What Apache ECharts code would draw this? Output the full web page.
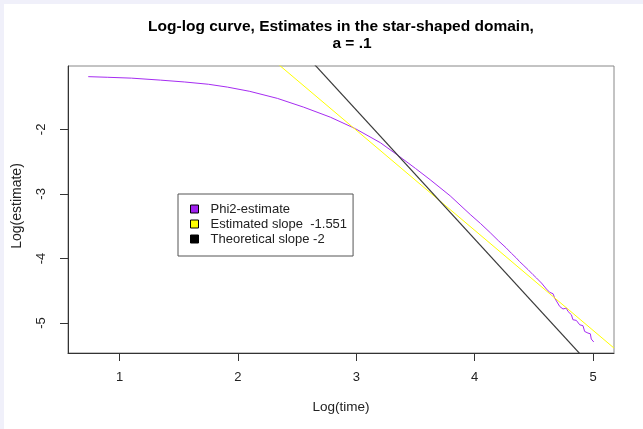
<!DOCTYPE html>
<html>
<head>
<meta charset="utf-8">
<script src="https://cdn.jsdelivr.net/npm/echarts@6/dist/echarts.min.js"></script>
<style>
html,body{margin:0;padding:0;background:#f0f0fa;width:643px;height:429px;overflow:hidden;}
#chart{position:absolute;left:4px;top:4px;width:639px;height:425px;background:#ffffff;}
</style>
</head>
<body>
<div id="chart"></div>
<script>
// ---- data ----
const titleLines = ["Log-log curve, Estimates in the star-shaped domain,", "a = .1"];
const xTitle = "Log(time)";
const yTitle = "Log(estimate)";
const seriesNames = ["Phi2-estimate", "Estimated slope  -1.551", "Theoretical slope -2"];
const xTicks = [1, 2, 3, 4, 5];
const yTicks = [-5, -4, -3, -2];
const logTime = [0.735, 0.90, 1.10, 1.346, 1.55, 1.75, 1.911, 2.10, 2.333, 2.555, 2.78, 2.992, 3.203, 3.36, 3.50, 3.624, 3.793, 3.962, 4.05, 4.131, 4.20, 4.265, 4.310, 4.350, 4.380, 4.409, 4.451, 4.493, 4.522, 4.564, 4.606, 4.634, 4.662, 4.676, 4.718, 4.746, 4.774, 4.788, 4.817, 4.830, 4.859, 4.887, 4.915, 4.929, 4.957, 4.977, 4.985, 5.006];
const logEstimate = [-1.182, -1.192, -1.205, -1.236, -1.265, -1.300, -1.344, -1.410, -1.519, -1.655, -1.810, -1.989, -2.206, -2.414, -2.605, -2.780, -3.030, -3.318, -3.460, -3.600, -3.725, -3.835, -3.920, -3.990, -4.050, -4.100, -4.174, -4.252, -4.303, -4.381, -4.474, -4.526, -4.547, -4.614, -4.744, -4.784, -4.769, -4.821, -4.873, -4.950, -4.961, -5.028, -5.043, -5.132, -5.157, -5.168, -5.250, -5.295];
const estSlope = -1.551, estIntercept = 2.64;
const theoSlope = -2, theoIntercept = 4.30;
const xRange = [0.564, 5.177];
const yRange = [-5.466, -1.017];

// ---- build ----
const curve = logTime.map((t, i) => [t, logEstimate[i]]);
const ablineData = (a, b) => xRange.map(x => [x, a + b * x]);
const FONT = '"Liberation Sans", Arial, Helvetica, sans-serif';

const chart = echarts.init(document.getElementById('chart'));
chart.setOption({
  backgroundColor: '#ffffff',
  animation: false,
  textStyle: {fontFamily: FONT},
  grid: {left: 64, top: 62, width: 546, height: 287, show: true, borderColor: '#888', borderWidth: 1, containLabel: false, outerBoundsMode: 'none'},
  xAxis: {
    type: 'value', min: xRange[0], max: xRange[1],
    axisLine: {show: true, onZero: false, lineStyle: {color: '#333', width: 1}},
    axisTick: {show: true, length: 8, customValues: xTicks, lineStyle: {color: '#333'}},
    axisLabel: {show: true, customValues: xTicks, margin: 18, color: '#222', fontSize: 13, fontFamily: FONT},
    splitLine: {show: false}
  },
  yAxis: {
    type: 'value', min: yRange[0], max: yRange[1],
    axisLine: {show: true, onZero: false, lineStyle: {color: '#333', width: 1}},
    axisTick: {show: true, length: 8, customValues: yTicks, lineStyle: {color: '#333'}},
    axisLabel: {show: true, customValues: yTicks, rotate: 90, margin: 20, color: '#222', fontSize: 13, fontFamily: FONT},
    splitLine: {show: false}
  },
  legend: {
    orient: 'vertical', left: 174, top: 190,
    padding: [8, 6, 10, 12],
    itemWidth: 8, itemHeight: 8, itemGap: 1,
    icon: 'rect',
    backgroundColor: '#ffffff', borderColor: '#555', borderWidth: 1,
    textStyle: {fontSize: 13, fontFamily: FONT, color: '#222', lineHeight: 14, padding: [0, 0, 0, 7]},
    itemStyle: {borderColor: '#000', borderWidth: 1},
    data: [
      {name: seriesNames[0], itemStyle: {color: '#a020f0'}},
      {name: seriesNames[1], itemStyle: {color: '#ffff00'}},
      {name: seriesNames[2], itemStyle: {color: '#000000'}}
    ]
  },
  graphic: [
    {type: 'text', x: 337, y: 23, style: {text: titleLines[0], align: 'center', verticalAlign: 'middle', font: 'bold 15.5px ' + FONT, fill: '#000'}},
    {type: 'text', x: 348, y: 40, style: {text: titleLines[1], align: 'center', verticalAlign: 'middle', font: 'bold 15.5px ' + FONT, fill: '#000'}},
    {type: 'text', x: 337, y: 403, style: {text: xTitle, align: 'center', verticalAlign: 'middle', font: '13.5px ' + FONT, fill: '#222'}},
    {type: 'text', x: 13, y: 202, rotation: Math.PI / 2, style: {text: yTitle, align: 'center', verticalAlign: 'middle', font: '14px ' + FONT, fill: '#222'}}
  ],
  series: [
    {name: seriesNames[0], type: 'line', data: curve, showSymbol: false, symbol: 'none', clip: true,
     lineStyle: {color: '#a62cf2', width: 1}, itemStyle: {color: '#a020f0'}},
    {name: seriesNames[1], type: 'line', data: ablineData(estIntercept, estSlope), showSymbol: false, symbol: 'none', clip: true,
     lineStyle: {color: '#ffff00', width: 1}, itemStyle: {color: '#ffff00'}},
    {name: seriesNames[2], type: 'line', data: ablineData(theoIntercept, theoSlope), showSymbol: false, symbol: 'none', clip: true,
     lineStyle: {color: '#3a3a3a', width: 1.2}, itemStyle: {color: '#000'}}
  ]
});
</script>
</body>
</html>
